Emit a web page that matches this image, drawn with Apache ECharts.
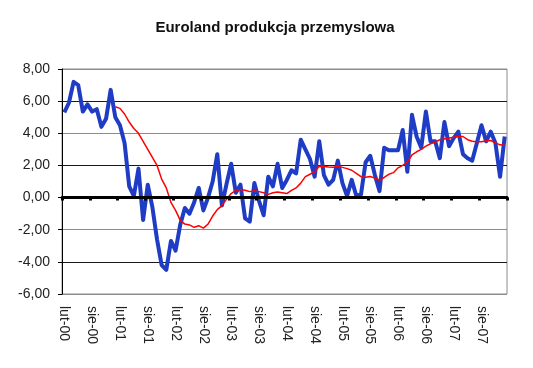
<!DOCTYPE html>
<html>
<head>
<meta charset="utf-8">
<script src="https://cdn.jsdelivr.net/npm/echarts@6/dist/echarts.min.js"></script>
<style>
html,body{margin:0;padding:0;background:#fff;}
#chart{width:533px;height:368px;}
</style>
</head>
<body>
<div id="chart"></div>
<script>
// Categories: monthly, Feb 2000 .. Jan 2008
var monthNames = ['sty','lut','mar','kwi','maj','cze','lip','sie','wrz','paź','lis','gru'];
var categories = [];
(function(){
  var m = 1, y = 0;
  for (var i = 0; i < 96; i++) {
    categories.push(monthNames[m] + '-' + (y < 10 ? '0' + y : '' + y));
    m++; if (m > 11) { m = 0; y++; }
  }
})();

var production = [
  5.3, 5.9, 7.2, 7.0, 5.35, 5.8, 5.35, 5.5, 4.4, 4.9, 6.7, 5.0,
  4.5, 3.4, 0.7, 0.1, 1.8, -1.4, 0.8, -0.6, -2.6, -4.2, -4.5, -2.7,
  -3.3, -1.7, -0.65, -1.0, -0.3, 0.6, -0.8, 0.0, 1.0, 2.7, -0.5, 0.85,
  2.1, 0.3, 0.8, -1.3, -1.5, 0.9, -0.2, -1.1, 1.3, 0.7, 2.1, 0.6,
  1.1, 1.7, 1.5, 3.6, 3.0, 2.4, 1.3, 3.5, 1.4, 0.8, 1.1, 2.3,
  0.9, 0.1, 1.1, 0.1, 0.2, 2.2, 2.6, 1.4, 0.4, 3.1, 2.95, 2.95,
  2.95, 4.2, 1.6, 5.15, 3.8, 3.1, 5.35, 3.5, 3.5, 2.45, 4.7, 3.2,
  3.7, 4.1, 2.7, 2.45, 2.3, 3.4, 4.5, 3.5, 4.1, 3.4, 1.3, 3.8
];

var movingAvg = [
  null, null, null, null, null, null, null, null, null, null, null, 5.65,
  5.55, 5.2, 4.7, 4.3, 4.0, 3.5, 3.0, 2.5, 2.0, 1.15, 0.6, -0.3,
  -0.8, -1.4, -1.65, -1.7, -1.85, -1.75, -1.9, -1.65, -1.15, -0.75, -0.5, -0.1,
  0.25, 0.45, 0.5, 0.45, 0.37, 0.42, 0.37, 0.3, 0.2, 0.3, 0.35, 0.3,
  0.25, 0.45, 0.6, 0.9, 1.3, 1.45, 1.6, 1.95, 1.93, 1.9, 1.89, 1.95,
  1.88, 1.8, 1.7, 1.5, 1.3, 1.27, 1.31, 1.21, 1.08, 1.25, 1.45, 1.55,
  1.85, 2.0, 2.2, 2.65, 2.85, 3.0, 3.2, 3.35, 3.45, 3.6, 3.65, 3.7,
  3.75, 3.8, 3.8, 3.6, 3.5, 3.48, 3.48, 3.53, 3.55, 3.4, 3.28, 3.25
];

var yMin = -6, yMax = 8, yStep = 2;
var titleText = 'Euroland produkcja przemyslowa';

var chart = echarts.init(document.getElementById('chart'), null, {renderer: 'canvas'});
var font = 'Arial, "Liberation Sans", sans-serif';
chart.setOption({
  animation: false,
  backgroundColor: '#ffffff',
  title: {
    text: titleText,
    left: 270,
    textAlign: 'center',
    top: 15,
    textStyle: {fontFamily: font, fontSize: 15, fontWeight: 'bold', color: '#111'}
  },
  grid: {
    left: 62, right: 26, top: 69, bottom: 74,
    show: true, borderColor: '#8c8c8c', borderWidth: 1, backgroundColor: 'transparent'
  },
  xAxis: [
    {
      type: 'category',
      data: categories,
      boundaryGap: true,
      axisLine: {onZero: true, lineStyle: {color: '#000', width: 3}},
      axisTick: {show: true, interval: 5, length: 3, lineStyle: {color: '#000', width: 3}},
      axisLabel: {show: false},
      splitLine: {show: false},
      z: 5
    },
    {
      type: 'category',
      data: categories,
      boundaryGap: true,
      position: 'bottom',
      axisLine: {show: false, onZero: false},
      axisTick: {show: false},
      axisLabel: {
        show: true, interval: 5, rotate: -90, margin: 12,
        fontFamily: font, fontSize: 14, color: '#222'
      },
      splitLine: {show: false}
    }
  ],
  yAxis: {
    type: 'value',
    min: yMin, max: yMax, interval: yStep,
    axisLine: {show: true, lineStyle: {color: '#000', width: 1}},
    axisTick: {show: true, length: 4, lineStyle: {color: '#000'}},
    axisLabel: {
      fontFamily: font, fontSize: 14, color: '#222', margin: 12,
      formatter: function(v){ return v.toFixed(2).replace('.', ','); }
    },
    splitLine: {show: true, lineStyle: {
      color: ['#8c8c8c', '#1a1a1a', '#8c8c8c', '#000000', '#1a1a1a', '#8c8c8c', '#1a1a1a', '#8c8c8c'],
      width: 1
    }}
  },
  series: [
    {
      name: 'produkcja',
      type: 'line',
      xAxisIndex: 0,
      data: production,
      showSymbol: false,
      symbol: 'none',
      lineStyle: {color: '#1e3cc4', width: 4, join: 'round'},
      z: 3
    },
    {
      name: 'średnia',
      type: 'line',
      xAxisIndex: 0,
      data: movingAvg,
      showSymbol: false,
      symbol: 'none',
      connectNulls: false,
      lineStyle: {color: '#ff0000', width: 1.5},
      z: 4
    }
  ]
});
</script>
</body>
</html>
